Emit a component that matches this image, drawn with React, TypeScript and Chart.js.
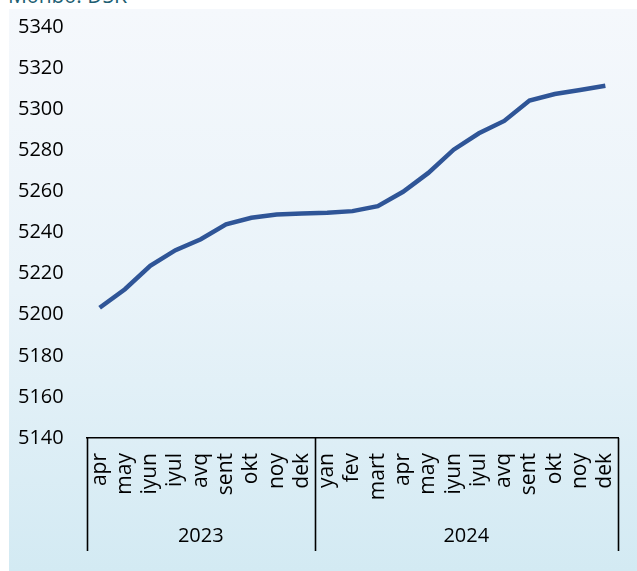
import React, { useEffect, useRef } from "react";
import { Chart, registerables } from "chart.js";

Chart.register(...registerables);

const months = [
  "apr", "may", "iyun", "iyul", "avq", "sent", "okt", "noy", "dek",
  "yan", "fev", "mart", "apr", "may", "iyun", "iyul", "avq", "sent", "okt", "noy", "dek",
];
const years = ["2023", "2024"];
const yearCounts = [9, 12];
const values = [
  5203.4, 5212.4, 5223.8, 5231.4, 5236.7, 5244.0, 5247.2, 5248.8, 5249.2,
  5249.6, 5250.4, 5252.8, 5259.8, 5269.0, 5280.3, 5288.3, 5294.3, 5304.2, 5307.4, 5309.3, 5311.4,
];
const yMin = 5140;
const yMax = 5340;
const yStep = 20;

const FONT = "'Open Sans', 'Noto Sans', sans-serif";

const groupPlugin = {
  id: "groupBoxes",
  afterDraw(chart: any) {
    const ctx = chart.ctx;
    const xs = chart.scales.x;
    const top = xs.top;
    const bottom = top + 113;
    const bounds: number[] = [chart.chartArea.left];
    let idx = 0;
    for (let g = 0; g < yearCounts.length; g++) {
      idx += yearCounts[g];
      if (g < yearCounts.length - 1) {
        bounds.push((xs.getPixelForValue(idx - 1) + xs.getPixelForValue(idx)) / 2);
      } else {
        bounds.push(chart.chartArea.right);
      }
    }
    ctx.save();
    ctx.strokeStyle = "#000";
    ctx.lineWidth = 1.6;
    for (const b of bounds) {
      ctx.beginPath();
      ctx.moveTo(Math.round(b) + 0.5, top);
      ctx.lineTo(Math.round(b) + 0.5, bottom);
      ctx.stroke();
    }
    ctx.fillStyle = "#000";
    ctx.font = `20px ${FONT}`;
    ctx.textAlign = "center";
    ctx.textBaseline = "middle";
    for (let g = 0; g < years.length; g++) {
      ctx.fillText(years[g], (bounds[g] + bounds[g + 1]) / 2, top + 98);
    }
    ctx.restore();
  },
};

export default function App() {
  const ref = useRef<HTMLCanvasElement | null>(null);
  useEffect(() => {
    if (!ref.current) return;
    const chart = new Chart(ref.current, {
      type: "line",
      data: {
        labels: months,
        datasets: [
          {
            data: values,
            borderColor: "#2F5597",
            borderWidth: 4.5,
            pointRadius: 0,
            tension: 0,
            fill: false,
          },
        ],
      },
      options: {
        responsive: false,
        animation: false,
        layout: { padding: { left: 9, top: 18, right: 19, bottom: 0 } },
        plugins: { legend: { display: false }, tooltip: { enabled: false }, title: { display: false } },
        scales: {
          x: {
            type: "category",
            offset: true,
            grid: { display: false, drawTicks: false },
            border: { display: true, color: "#000", width: 1.6 },
            ticks: {
              autoSkip: false,
              minRotation: 90,
              maxRotation: 90,
              padding: 15,
              color: "#000",
              font: { family: FONT, size: 21 },
            },
            afterFit(scale: any) {
              scale.height = 133;
              scale.paddingLeft = 0;
              scale.paddingRight = 0;
            },
          },
          y: {
            min: yMin,
            max: yMax,
            grid: { display: false, drawTicks: false },
            border: { display: false },
            ticks: {
              stepSize: yStep,
              crossAlign: "far",
              color: "#000",
              font: { family: FONT, size: 20 },
              callback: (v: any) => String(v),
            },
            afterFit(scale: any) {
              scale.width = 69;
            },
          },
        },
      },
      plugins: [groupPlugin],
    });
    return () => chart.destroy();
  }, []);

  return (
    <div
      style={{
        position: "absolute",
        left: 9,
        top: 9,
        width: 628,
        height: 562,
        background: "linear-gradient(to bottom, #f5f8fc 0%, #e9f3f9 50%, #d3eaf3 100%)",
      }}
    >
      <div
        style={{
          position: "absolute",
          left: -1,
          top: -24,
          fontFamily: FONT,
          fontSize: 21,
          lineHeight: "20px",
          color: "#1f5f73",
          whiteSpace: "nowrap",
        }}
      >
        Mənbə: DSK
      </div>
      <canvas ref={ref} width={628} height={562} style={{ display: "block" }} />
    </div>
  );
}
